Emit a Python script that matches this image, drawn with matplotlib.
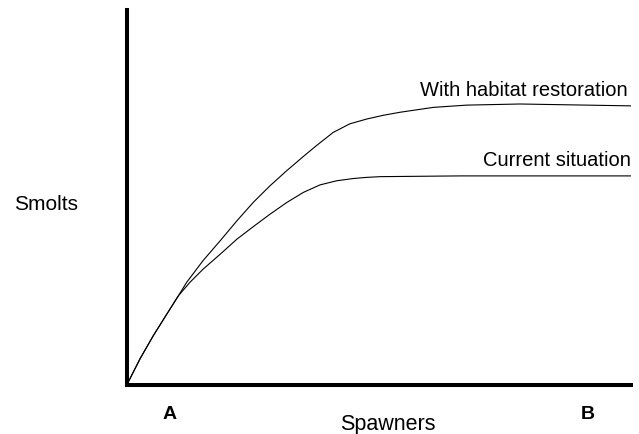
import matplotlib
matplotlib.use("Agg")
import matplotlib.pyplot as plt

# Spawners (x) vs smolts (y), arbitrary units 0-100
CURRENT_X = [0, 2.6, 5.2, 7.9, 10.2, 12.5, 15.1, 18.5, 21.8, 25.1, 28.4,
             31.7, 35.0, 38.3, 41.6, 44.9, 47.5, 50.2, 66.1, 100]
CURRENT_Y = [0, 6.9, 13.0, 18.8, 23.7, 27.3, 30.8, 34.8, 38.8, 42.2, 45.5,
             48.6, 51.3, 53.3, 54.4, 55.0, 55.3, 55.5, 55.7, 55.7]

RESTORED_X = [0, 2.6, 5.2, 7.9, 10.2, 11.85, 15.1, 18.5, 21.8, 25.1, 28.4,
              31.7, 35.0, 37.6, 40.9, 44.2, 47.6, 50.9, 54.2, 60.8, 67.4,
              78.0, 100]
RESTORED_Y = [0, 6.9, 13.0, 18.8, 23.7, 27.3, 33.1, 38.4, 43.7, 48.7, 53.1,
              57.1, 60.9, 63.8, 67.3, 69.6, 70.9, 71.9, 72.7, 74.0, 74.6,
              74.9, 74.4]

CURVE_LABELS = ["Current situation", "With habitat restoration"]

plt.rcParams["font.family"] = ["Liberation Sans", "DejaVu Sans"]

fig = plt.figure(figsize=(6.39, 4.35), dpi=100)
ax = fig.add_axes([127 / 639, 1 - 385.5 / 435, 504 / 639, 374.5 / 435])

ax.plot(CURRENT_X, CURRENT_Y, color="black", lw=0.8)
ax.plot(RESTORED_X, RESTORED_Y, color="black", lw=0.8)
ax.set_xlim(0, 100)
ax.set_ylim(0, 100)

# curve labels sit just above the right end of each plateau
ax.text(100, CURRENT_Y[-1] + 3.0, CURVE_LABELS[0], ha="right",
        va="baseline", fontsize=14.5)
ax.text(99.4, RESTORED_Y[-1] + 3.0, CURVE_LABELS[1], ha="right",
        va="baseline", fontsize=14.5)

for side in ["top", "right"]:
    ax.spines[side].set_visible(False)
for side in ["left", "bottom"]:
    ax.spines[side].set_linewidth(2.9)
ax.set_xticks([])
ax.set_yticks([])

fig.text(46 / 639, 1 - 205 / 435, "Smolts", ha="center", va="center",
         fontsize=15)
fig.text(388 / 639, 1 - 430 / 435, "Spawners", ha="center",
         va="baseline", fontsize=15.5)
fig.text(170 / 639, 1 - 419 / 435, "A", ha="center", va="baseline",
         fontsize=14, fontweight="bold")
fig.text(588 / 639, 1 - 419 / 435, "B", ha="center", va="baseline",
         fontsize=14, fontweight="bold")

fig.savefig("out.png", dpi=100, facecolor="white")
